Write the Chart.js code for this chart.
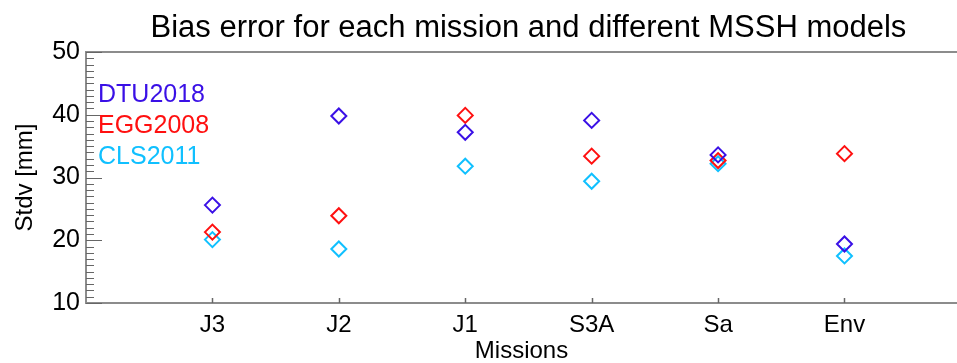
<!DOCTYPE html>
<html>
<head>
<meta charset="utf-8">
<script src="https://cdn.jsdelivr.net/npm/chart.js@4/dist/chart.umd.min.js"></script>
<style>
  html, body { margin: 0; padding: 0; background: #fff; overflow: hidden; }
  #wrap { width: 957px; height: 363px; }
</style>
</head>
<body>
<div id="wrap"><canvas id="c" width="957" height="363"></canvas></div>
<script>
const categories = ['J3', 'J2', 'J1', 'S3A', 'Sa', 'Env'];
const dtu2018 = [25.6, 39.8, 37.2, 39.1, 33.6, 19.4];
const egg2008 = [21.3, 23.9, 39.9, 33.4, 32.7, 33.8];
const cls2011 = [20.1, 18.6, 31.8, 29.4, 32.2, 17.5];
const yTicks = [10, 20, 30, 40, 50];
const seriesNames = ['DTU2018', 'EGG2008', 'CLS2011'];
const seriesColors = ['#3a10e6', '#ff1010', '#10c0ff'];
const chartTitle = 'Bias error for each mission and different MSSH models';

const FONT = '"Liberation Sans", Arial, Helvetica, sans-serif';

function pts(arr) { return arr.map((v, i) => ({ x: i + 1, y: v })); }

const decor = {
  id: 'decor',
  afterDraw(chart) {
    const ctx = chart.ctx;
    const a = chart.chartArea;
    const ys = chart.scales.y, xs = chart.scales.x;
    ctx.save();
    // title centred over the full (cropped) plot span
    ctx.font = '31px ' + FONT;
    ctx.fillStyle = '#000';
    ctx.textAlign = 'center';
    ctx.textBaseline = 'middle';
    const cx = (xs.getPixelForValue(0) + xs.getPixelForValue(categories.length + 1)) / 2;
    ctx.fillText(chartTitle, cx, 28);
    // top line
    ctx.strokeStyle = '#8c8c8c';
    ctx.lineWidth = 2;
    ctx.beginPath();
    ctx.moveTo(a.left, a.top);
    ctx.lineTo(a.right, a.top);
    ctx.stroke();
    // y ticks inside
    ctx.strokeStyle = '#666';
    ctx.lineWidth = 1;
    for (let v = ys.min; v <= ys.max; v++) {
      const y = Math.round(ys.getPixelForValue(v)) + 0.5;
      const major = v % 10 === 0;
      ctx.beginPath();
      ctx.moveTo(a.left, y);
      ctx.lineTo(a.left + (major ? 16 : 8), y);
      ctx.stroke();
    }
    // x ticks inside
    ctx.lineWidth = 1.5;
    categories.forEach((c, i) => {
      const x = Math.round(xs.getPixelForValue(i + 1)) + 0.5;
      ctx.beginPath();
      ctx.moveTo(x, a.bottom);
      ctx.lineTo(x, a.bottom - 5);
      ctx.stroke();
    });
    // legend text
    ctx.font = '25px ' + FONT;
    ctx.textBaseline = 'middle';
    ctx.textAlign = 'left';
    chart.data.datasets.forEach((ds, i) => {
      ctx.fillStyle = ds.borderColor;
      ctx.fillText(ds.label, a.left + 12, a.top + 43 + i * 31);
    });
    ctx.restore();
  }
};

new Chart(document.getElementById('c'), {
  type: 'scatter',
  data: {
    datasets: [
      { label: seriesNames[0], data: pts(dtu2018), borderColor: seriesColors[0] },
      { label: seriesNames[1], data: pts(egg2008), borderColor: seriesColors[1] },
      { label: seriesNames[2], data: pts(cls2011), borderColor: seriesColors[2] }
    ].map(d => Object.assign(d, {
      pointStyle: 'rectRot', pointRadius: 7.5, pointBorderWidth: 2,
      backgroundColor: 'rgba(0,0,0,0)', pointBackgroundColor: 'rgba(0,0,0,0)',
      pointBorderColor: d.borderColor, showLine: false
    }))
  },
  options: {
    responsive: false,
    animation: false,
    layout: { autoPadding: false, padding: { left: 0, right: 0, top: 52, bottom: 0 } },
    plugins: {
      legend: { display: false },
      tooltip: { enabled: false },
      title: { display: false }
    },
    scales: {
      x: {
        type: 'linear',
        min: 0,
        max: 6.89,
        afterBuildTicks(s) { s.ticks = categories.map((c, i) => ({ value: i + 1 })); },
        ticks: {
          callback: (v) => categories[v - 1] || '',
          color: '#000',
          font: { family: FONT, size: 24 },
          padding: 8,
          maxRotation: 0,
          autoSkip: false
        },
        grid: { display: true, drawOnChartArea: false, drawTicks: false },
        border: { display: true, color: '#8c8c8c', width: 2 },
        title: {
          display: true,
          text: 'Missions',
          color: '#000',
          font: { family: FONT, size: 24, lineHeight: 1.0 },
          padding: { top: 0, bottom: 0 }
        },
        afterFit(s) { s.height = 60; }
      },
      y: {
        min: 10,
        max: 50,
        afterBuildTicks(s) { s.ticks = yTicks.map(v => ({ value: v })); },
        ticks: {
          color: '#000',
          font: { family: FONT, size: 25 },
          padding: 6
        },
        grid: { display: true, drawOnChartArea: false, drawTicks: false },
        border: { display: true, color: '#8c8c8c', width: 2 },
        title: {
          display: true,
          text: 'Stdv [mm]',
          color: '#000',
          font: { family: FONT, size: 24 },
          padding: { top: 11, bottom: 0 }
        },
        afterFit(s) { s.width = 86; }
      }
    }
  },
  plugins: [decor]
});
</script>
</body>
</html>
